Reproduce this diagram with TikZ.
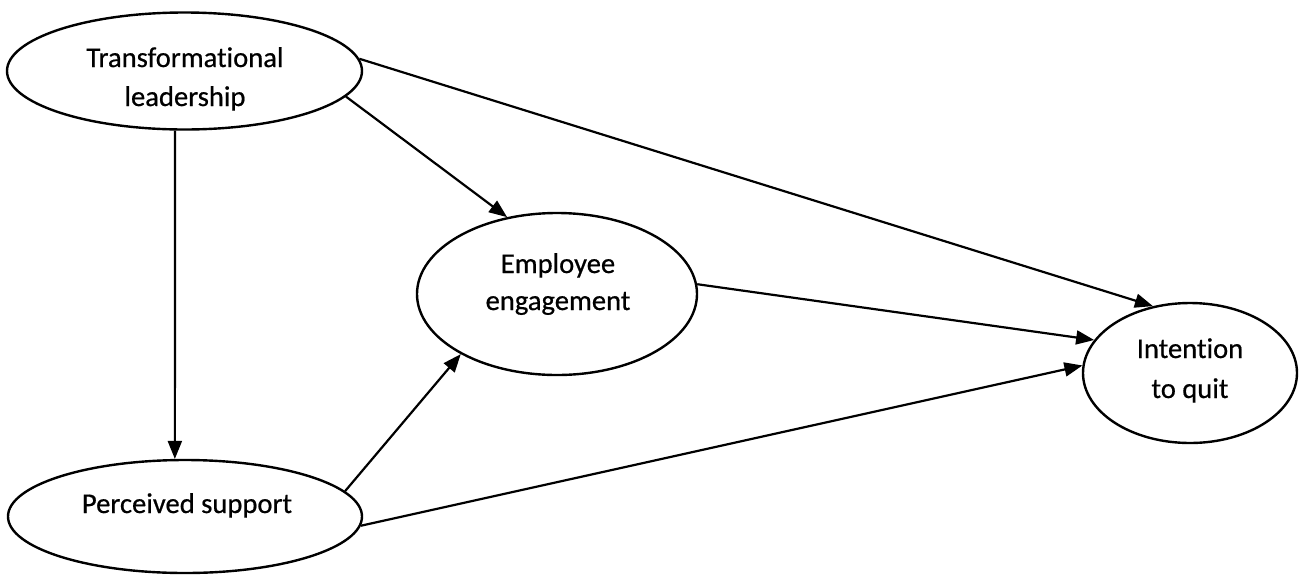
\documentclass[tikz,border=0pt]{standalone}
\usepackage{fontspec}
\setmainfont{Carlito}[Ligatures=NoCommon, FakeBold=0.6]
\usetikzlibrary{arrows.meta,shapes.geometric}
\begin{document}
\begin{tikzpicture}[x=0.5pt,y=-0.5pt,
  ell/.style={draw, ellipse, line width=1.2pt, inner sep=0pt},
  lbl/.style={anchor=base, font=\fontsize{14.3}{17}\selectfont, inner sep=0pt},
  arr/.style={line width=1.1pt, -{Triangle[length=9pt,width=7pt]}}]
\useasboundingbox (0,0) rectangle (1302,574);
% ellipses
\node[ell, minimum width=177.5pt, minimum height=58.5pt] (tl) at (184.5,71) {};
\node[ell, minimum width=177pt, minimum height=56.5pt] (ps) at (185,516.5) {};
\node[ell, minimum width=140pt, minimum height=81pt] (ee) at (557,294) {};
\node[ell, minimum width=107pt, minimum height=70pt] (iq) at (1190,373) {};
% labels
\node[lbl] (tl1) at (185,67) {Transformational};
\node[lbl] (tl2) at (185,106) {leadership};
\node[lbl] (ee1) at (558,273) {Employee};
\node[lbl] (ee2) at (558,310) {engagement};
\node[lbl] (iq1) at (1190,358) {Intention};
\node[lbl] (iq2) at (1190,398) {to quit};
\node[lbl] (ps1) at (187,513) {Perceived support};
% connectors
\draw[arr] (tl.-99.6) -- (ps.100);
\draw[arr] (tl.-9.4) -- (ee.123.7);
\draw[arr] (tl.4.2) -- (iq.119.7);
\draw[arr] (ee.4.5) -- (iq.161.4);
\draw[arr] (ps.9.4) -- (ee.212.2);
\draw[arr] (ps.-3.7) -- (iq.176.2);
\end{tikzpicture}
\end{document}
